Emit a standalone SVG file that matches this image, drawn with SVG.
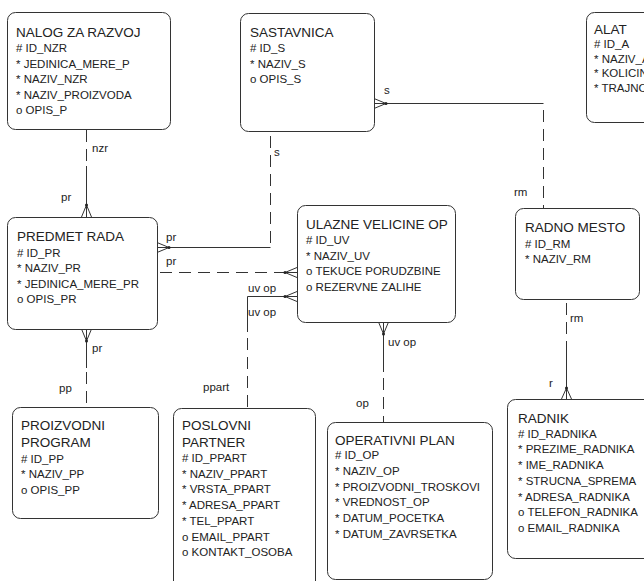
<svg xmlns="http://www.w3.org/2000/svg" width="644" height="581" viewBox="0 0 644 581">
<style>
.box{fill:#fff;stroke:#333;stroke-width:1}
.t{font-family:"Liberation Sans",Arial,sans-serif;font-size:13.5px;fill:#222}
.a{font-family:"Liberation Sans",Arial,sans-serif;font-size:11.5px;fill:#222}
.l{font-family:"Liberation Sans",Arial,sans-serif;font-size:11.5px;fill:#222}
.s{fill:none;stroke:#333;stroke-width:1}
.d{fill:none;stroke:#333;stroke-width:1;stroke-dasharray:12 7}
.dot{fill:#222}
</style>
<rect width="644" height="581" fill="#fff"/>

<g id="connectors">
  <!-- NALOG - PREDMET -->
  <path class="d" d="M86.5,130 V166"/>
  <path class="s" d="M86.5,166 V217 M86.5,205 L81.5,217 M86.5,205 L91.5,217"/>
  <circle class="dot" cx="86.5" cy="205" r="1.5"/>
  <text class="l" x="92" y="152">nzr</text>
  <text class="l" x="61" y="201">pr</text>

  <!-- PREDMET - PROIZVODNI PROGRAM -->
  <path class="s" d="M86.5,329 V368 M86.5,341 L81.5,329 M86.5,341 L91.5,329"/>
  <circle class="dot" cx="86.5" cy="341" r="1.5"/>
  <path class="d" d="M86.5,372 V407"/>
  <text class="l" x="92" y="352">pr</text>
  <text class="l" x="59" y="392">pp</text>

  <!-- SASTAVNICA - PREDMET -->
  <path class="d" d="M270.5,136 V247.5"/>
  <path class="s" d="M270.5,247.5 H157 M169,247.5 L157,242.5 M169,247.5 L157,252.5"/>
  <circle class="dot" cx="169" cy="247.5" r="1.5"/>
  <text class="l" x="274" y="156">s</text>
  <text class="l" x="166" y="241">pr</text>

  <!-- PREDMET - ULAZNE -->
  <path class="d" d="M160,272.5 H285"/>
  <path class="s" d="M285,272.5 H297 M285,272.5 L297,267.5 M285,272.5 L297,277.5"/>
  <circle class="dot" cx="285" cy="272.5" r="1.5"/>
  <text class="l" x="166" y="265">pr</text>

  <!-- ULAZNE - POSLOVNI PARTNER -->
  <path class="s" d="M297,296.5 H247.5 V332 M285,296.5 L297,291.5 M285,296.5 L297,301.5"/>
  <circle class="dot" cx="285" cy="296.5" r="1.5"/>
  <path class="d" d="M247.5,338 V408"/>
  <text class="l" x="248" y="292">uv op</text>
  <text class="l" x="248" y="316">uv op</text>
  <text class="l" x="203" y="391">ppart</text>

  <!-- ULAZNE - OPERATIVNI PLAN -->
  <path class="s" d="M383.5,322 V372 M383.5,334 L378.5,322 M383.5,334 L388.5,322"/>
  <circle class="dot" cx="383.5" cy="334" r="1.5"/>
  <path class="d" d="M383.5,378 V422"/>
  <text class="l" x="388" y="346">uv op</text>
  <text class="l" x="356" y="407">op</text>

  <!-- RADNO MESTO - SASTAVNICA -->
  <path class="s" d="M374,103.5 H543.5 M386,103.5 L374,98.5 M386,103.5 L374,108.5"/>
  <circle class="dot" cx="386" cy="103.5" r="1.5"/>
  <path class="d" d="M543.5,110 V208"/>
  <text class="l" x="384" y="94">s</text>
  <text class="l" x="514" y="196">rm</text>

  <!-- RADNO MESTO - RADNIK -->
  <path class="d" d="M566.5,303 V349"/>
  <path class="s" d="M566.5,349 V399 M566.5,388 L561.5,399 M566.5,388 L571.5,399"/>
  <circle class="dot" cx="566.5" cy="388" r="1.5"/>
  <text class="l" x="570" y="322">rm</text>
  <text class="l" x="549" y="387">r</text>
</g>

<g id="nalog_za_razvoj">
  <rect class="box" x="7.5" y="12.5" width="163" height="117" rx="8"/>
  <text class="t" x="16" y="37">NALOG ZA RAZVOJ</text>
  <text class="a" x="16" y="52">#  ID_NZR</text>
  <text class="a" x="16" y="67.5">*  JEDINICA_MERE_P</text>
  <text class="a" x="16" y="83">*  NAZIV_NZR</text>
  <text class="a" x="16" y="98.5">*  NAZIV_PROIZVODA</text>
  <text class="a" x="16" y="114">o  OPIS_P</text>
</g>

<g id="sastavnica">
  <rect class="box" x="240.5" y="13.5" width="134" height="118" rx="8"/>
  <text class="t" x="250" y="37">SASTAVNICA</text>
  <text class="a" x="250" y="52">#  ID_S</text>
  <text class="a" x="250" y="67.5">*  NAZIV_S</text>
  <text class="a" x="250" y="83">o  OPIS_S</text>
</g>

<g id="alat">
  <rect class="box" x="586.5" y="12.5" width="80" height="110" rx="8"/>
  <text class="t" x="594" y="34">ALAT</text>
  <text class="a" x="594" y="48">#  ID_A</text>
  <text class="a" x="594" y="62.5">*  NAZIV_A</text>
  <text class="a" x="594" y="77">*  KOLICIN</text>
  <text class="a" x="594" y="91.5">*  TRAJNO</text>
</g>

<g id="predmet_rada">
  <rect class="box" x="7.5" y="217.5" width="150" height="112" rx="8"/>
  <text class="t" x="17" y="241">PREDMET RADA</text>
  <text class="a" x="17" y="256.5">#  ID_PR</text>
  <text class="a" x="17" y="272">*  NAZIV_PR</text>
  <text class="a" x="17" y="287.5">*  JEDINICA_MERE_PR</text>
  <text class="a" x="17" y="303">o  OPIS_PR</text>
</g>

<g id="ulazne_velicine_op">
  <rect class="box" x="297.5" y="205.5" width="158" height="117" rx="8"/>
  <text class="t" x="306" y="228.5">ULAZNE VELICINE OP</text>
  <text class="a" x="306" y="244">#  ID_UV</text>
  <text class="a" x="306" y="259.5">*  NAZIV_UV</text>
  <text class="a" x="306" y="275">o  TEKUCE PORUDZBINE</text>
  <text class="a" x="306" y="290.5">o  REZERVNE ZALIHE</text>
</g>

<g id="radno_mesto">
  <rect class="box" x="515.5" y="208.5" width="124" height="91" rx="8"/>
  <text class="t" x="525" y="232">RADNO MESTO</text>
  <text class="a" x="525" y="247.5">#  ID_RM</text>
  <text class="a" x="525" y="263">*  NAZIV_RM</text>
</g>

<g id="proizvodni_program">
  <rect class="box" x="12.5" y="407.5" width="146" height="111" rx="8"/>
  <text class="t" x="21" y="430">PROIZVODNI</text>
  <text class="t" x="21" y="447">PROGRAM</text>
  <text class="a" x="21" y="462.5">#  ID_PP</text>
  <text class="a" x="21" y="478">*  NAZIV_PP</text>
  <text class="a" x="21" y="494">o  OPIS_PP</text>
</g>

<g id="poslovni_partner">
  <rect class="box" x="173.5" y="408.5" width="142" height="190" rx="8"/>
  <text class="t" x="182" y="430">POSLOVNI</text>
  <text class="t" x="182" y="447">PARTNER</text>
  <text class="a" x="182" y="462">#  ID_PPART</text>
  <text class="a" x="182" y="477.7">*  NAZIV_PPART</text>
  <text class="a" x="182" y="493.4">*  VRSTA_PPART</text>
  <text class="a" x="182" y="509">*  ADRESA_PPART</text>
  <text class="a" x="182" y="524.8">*  TEL_PPART</text>
  <text class="a" x="182" y="540.5">o  EMAIL_PPART</text>
  <text class="a" x="182" y="556.2">o  KONTAKT_OSOBA</text>
</g>

<g id="operativni_plan">
  <rect class="box" x="327.5" y="422.5" width="165" height="157" rx="8"/>
  <text class="t" x="335" y="445">OPERATIVNI PLAN</text>
  <text class="a" x="335" y="459">#  ID_OP</text>
  <text class="a" x="335" y="474.5">*  NAZIV_OP</text>
  <text class="a" x="335" y="490.5">*  PROIZVODNI_TROSKOVI</text>
  <text class="a" x="335" y="506">*  VREDNOST_OP</text>
  <text class="a" x="335" y="522">*  DATUM_POCETKA</text>
  <text class="a" x="335" y="538">*  DATUM_ZAVRSETKA</text>
</g>

<g id="radnik">
  <rect class="box" x="507.5" y="399.5" width="150" height="159" rx="8"/>
  <text class="t" x="518" y="423">RADNIK</text>
  <text class="a" x="518" y="437.5">#  ID_RADNIKA</text>
  <text class="a" x="518" y="453">*  PREZIME_RADNIKA</text>
  <text class="a" x="518" y="469">*  IME_RADNIKA</text>
  <text class="a" x="518" y="485">*  STRUCNA_SPREMA</text>
  <text class="a" x="518" y="500.5">*  ADRESA_RADNIKA</text>
  <text class="a" x="518" y="516">o  TELEFON_RADNIKA</text>
  <text class="a" x="518" y="531.5">o  EMAIL_RADNIKA</text>
</g>
</svg>
